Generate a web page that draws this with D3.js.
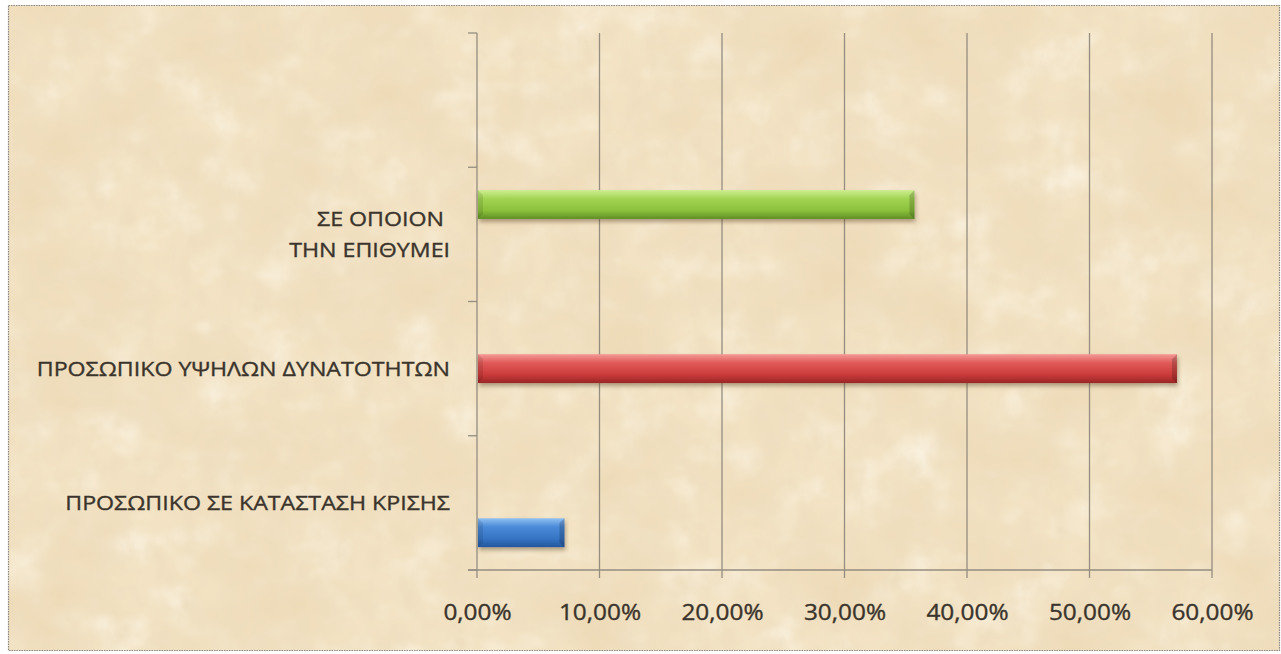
<!DOCTYPE html>
<html>
<head>
<meta charset="utf-8">
<script src="https://cdn.jsdelivr.net/npm/d3@7"></script>
<style>
  html, body { margin: 0; padding: 0; background: #ffffff; }
  svg { display: block; }
  text { font-family: "Open Sans", "Noto Sans", sans-serif; fill: #3a342c; stroke: #3a342c; stroke-width: 0.35px; }
</style>
</head>
<body>
<svg id="chart" width="1281" height="654"></svg>
<script>
// Categories, listed from the bottom of the chart to the top (top slot is blank)
const categories = [
  ["ΠΡΟΣΩΠΙΚΟ ΣΕ ΚΑΤΑΣΤΑΣΗ ΚΡΙΣΗΣ"],
  ["ΠΡΟΣΩΠΙΚΟ ΥΨΗΛΩΝ ΔΥΝΑΤΟΤΗΤΩΝ"],
  ["ΣΕ ΟΠΟΙΟΝ ", "ΤΗΝ ΕΠΙΘΥΜΕΙ"],
  [""]
];
const categoryKeys = ["krisi", "ypsilon", "opoion", "blank"];

// One series per answer; each has a value only in its own category (percent)
const seriesNames = ["Σειρά1", "Σειρά2", "Σειρά3"];
const seriesKrisi   = [7.14, 0, 0, 0];
const seriesYpsilon = [0, 57.14, 0, 0];
const seriesOpoion  = [0, 0, 35.71, 0];
const seriesValues = [seriesKrisi, seriesYpsilon, seriesOpoion];

const xTicks = [0, 10, 20, 30, 40, 50, 60];

const svg = d3.select("#chart");
const W = 1281, H = 654;
const plot = { left: 477, right: 1212, top: 33, bottom: 570 };
const stretch = 1.16; // horizontal stretch of the lettering

const defs = svg.append("defs");

// Parchment texture: soft tan blotches plus fine grain over a cream base
const paper = defs.append("filter").attr("id", "paper")
  .attr("x", 0).attr("y", 0).attr("width", "100%").attr("height", "100%");
paper.append("feTurbulence").attr("type", "fractalNoise")
  .attr("baseFrequency", "0.009 0.012").attr("numOctaves", 4).attr("seed", 7).attr("result", "blot");
paper.append("feColorMatrix").attr("in", "blot").attr("type", "matrix")
  .attr("values", "0 0 0 0 0.85  0 0 0 0 0.70  0 0 0 0 0.47  2.4 0 0 0 -0.92")
  .attr("result", "blotC");
paper.append("feTurbulence").attr("type", "fractalNoise")
  .attr("baseFrequency", "0.045 0.035").attr("numOctaves", 4).attr("seed", 3).attr("result", "grain");
paper.append("feColorMatrix").attr("in", "grain").attr("type", "matrix")
  .attr("values", "0 0 0 0 0.86  0 0 0 0 0.73  0 0 0 0 0.52  1.8 0 0 0 -0.68")
  .attr("result", "grainC");
paper.append("feTurbulence").attr("type", "fractalNoise")
  .attr("baseFrequency", "0.02 0.025").attr("numOctaves", 3).attr("seed", 19).attr("result", "light");
paper.append("feColorMatrix").attr("in", "light").attr("type", "matrix")
  .attr("values", "0 0 0 0 0.98  0 0 0 0 0.94  0 0 0 0 0.84  1.5 0 0 0 -0.70")
  .attr("result", "lightC");
const merge = paper.append("feMerge");
merge.append("feMergeNode").attr("in", "SourceGraphic");
merge.append("feMergeNode").attr("in", "lightC");
merge.append("feMergeNode").attr("in", "blotC");
merge.append("feMergeNode").attr("in", "grainC");

// Bar gradients
const barColors = [
  { id: "gBlue",  stops: ["#8fc0f2", "#4a8ad8", "#3674c4", "#23579c"] },
  { id: "gRed",   stops: ["#f49a96", "#e05a58", "#cc3b3b", "#9a2626"] },
  { id: "gGreen", stops: ["#cdee90", "#a2d453", "#8cc13c", "#5f8f24"] }
];
barColors.forEach(c => {
  const g = defs.append("linearGradient").attr("id", c.id)
    .attr("x1", 0).attr("y1", 0).attr("x2", 0).attr("y2", 1);
  [0, 0.3, 0.7, 1].forEach((o, i) => g.append("stop").attr("offset", o).attr("stop-color", c.stops[i]));
});

const shadow = defs.append("filter").attr("id", "shadow")
  .attr("x", "-5%").attr("y", "-30%").attr("width", "110%").attr("height", "180%");
shadow.append("feDropShadow").attr("dx", 1).attr("dy", 3).attr("stdDeviation", 2)
  .attr("flood-color", "#5a4020").attr("flood-opacity", 0.45);

// Background
svg.append("rect").attr("x", 8).attr("y", 5).attr("width", W - 9).attr("height", H - 8)
  .attr("fill", "#f3e3c4").attr("filter", "url(#paper)");
svg.append("rect").attr("x", 8.5).attr("y", 5.5).attr("width", W - 10).attr("height", H - 9)
  .attr("fill", "none").attr("stroke", "#8a8a8a").attr("stroke-width", 1.2)
  .attr("stroke-dasharray", "1.5 1");

// Scales
const x = d3.scaleLinear().domain([0, 60]).range([plot.left, plot.right]);
const y0 = d3.scaleBand().domain(categoryKeys).range([plot.bottom, plot.top]).padding(0);
const y1 = d3.scaleBand().domain(seriesNames).range([y0.bandwidth(), 0])
  .paddingInner(0).paddingOuter(0.75);

const axisColor = "#948d80";

// Vertical gridlines, extending a little below the category axis
svg.append("g").selectAll("line").data(xTicks).join("line")
  .attr("x1", d => x(d)).attr("x2", d => x(d))
  .attr("y1", plot.top).attr("y2", plot.bottom + 8)
  .attr("stroke", axisColor).attr("stroke-width", 1.3);

// Category axis ticks at band boundaries
const bounds = categoryKeys.map(k => y0(k)).concat([y0(categoryKeys[0]) + y0.bandwidth()]);
svg.append("g").selectAll("line").data(bounds).join("line")
  .attr("x1", plot.left - 9).attr("x2", plot.left)
  .attr("y1", d => d).attr("y2", d => d)
  .attr("stroke", axisColor).attr("stroke-width", 1.3);

// Horizontal axis line
svg.append("line").attr("x1", plot.left - 9).attr("x2", plot.right)
  .attr("y1", plot.bottom).attr("y2", plot.bottom)
  .attr("stroke", axisColor).attr("stroke-width", 1.3);

// Value axis labels
const xAxis = d3.axisBottom(x).tickValues(xTicks).tickSize(0).tickPadding(0)
  .tickFormat(d => d.toFixed(2).replace(".", ",") + "%");
const xg = svg.append("g").attr("transform", `translate(0,${plot.bottom + 50})`).call(xAxis);
xg.select(".domain").remove();
xg.selectAll("text").attr("dy", 0).attr("font-size", 21)
  .attr("font-family", "\"Open Sans\", sans-serif")
  .attr("transform", `scale(${stretch},1)`)
  .style("fill", "#3a342c");

// Category labels
const labels = svg.append("g");
categoryKeys.forEach((k, i) => {
  const lines = categories[i];
  const cy = y0(k) + y0.bandwidth() / 2;
  const lh = 31;
  const g = labels.append("g").attr("transform", `translate(${plot.left - 27},0) scale(${stretch},1)`);
  const t = g.append("text").attr("text-anchor", "end").attr("font-size", 20)
    .style("white-space", "pre");
  lines.forEach((ln, j) => {
    t.append("tspan").attr("x", 0)
      .attr("y", cy + (j - (lines.length - 1) / 2) * lh + 7).text(ln);
  });
});

// Bars
const barData = [];
seriesValues.forEach((vals, si) => {
  vals.forEach((v, ci) => { if (v > 0) barData.push({ s: si, c: categoryKeys[ci], v }); });
});
const bars = svg.append("g").selectAll("g").data(barData).join("g")
  .attr("transform", d => `translate(0,${y0(d.c) + y1(seriesNames[d.s])})`);
bars.append("rect")
  .attr("x", x(0) + 1).attr("y", 0.5)
  .attr("width", d => x(d.v) - x(0) - 1).attr("height", y1.bandwidth() - 1)
  .attr("fill", d => `url(#${barColors[d.s].id})`)
  .attr("filter", "url(#shadow)");
// bevelled ends
bars.append("path")
  .attr("d", d => {
    const x2 = x(d.v), h = y1.bandwidth() - 1, b = 5;
    return `M${x2},0.5 L${x2 - b},${0.5 + b} L${x2 - b},${h + 0.5 - b} L${x2},${h + 0.5} Z`;
  })
  .attr("fill", "#000").attr("opacity", 0.18);
bars.append("path")
  .attr("d", d => {
    const x1 = x(0) + 1, h = y1.bandwidth() - 1, b = 5;
    return `M${x1},0.5 L${x1 + b},${0.5 + b} L${x1 + b},${h + 0.5 - b} L${x1},${h + 0.5} Z`;
  })
  .attr("fill", "#000").attr("opacity", 0.1);
</script>
</body>
</html>
